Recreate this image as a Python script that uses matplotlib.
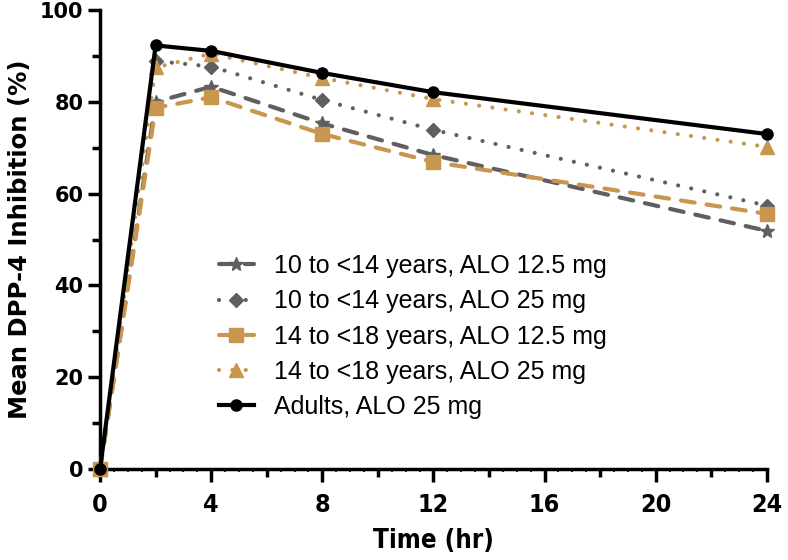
import matplotlib
matplotlib.use("Agg")
import matplotlib.pyplot as plt
from matplotlib.ticker import MultipleLocator, FixedLocator
from matplotlib.font_manager import FontProperties

time = [0, 2, 4, 8, 12, 24]
labels = ["10 to <14 years, ALO 12.5 mg",
          "10 to <14 years, ALO 25 mg",
          "14 to <18 years, ALO 12.5 mg",
          "14 to <18 years, ALO 25 mg",
          "Adults, ALO 25 mg"]
v_10_14_125 = [0, 80.0, 83.3, 75.3, 68.4, 51.9]
v_10_14_25 = [0, 88.9, 87.7, 80.4, 73.9, 57.4]
v_14_18_125 = [0, 78.7, 81.0, 73.0, 66.9, 55.6]
v_14_18_25 = [0, 87.5, 90.5, 85.2, 80.6, 70.2]
v_adult_25 = [0, 92.3, 91.1, 86.3, 82.1, 73.0]

grey = "#5f5f5f"
tan = "#C8964E"

fig = plt.figure(figsize=(7.88, 5.6), dpi=100)
ax = fig.add_axes([0.127, 0.1625, 0.846, 0.8195])

lw = 3.0
dash = (0, (3.3, 2.9))
dot = (0, (0.01, 3.2))

ax.plot(time, v_10_14_125, color=grey, lw=lw, ls=dash, dash_capstyle="round",
        marker="*", ms=10, clip_on=False, zorder=3, label=labels[0])
ax.plot(time, v_10_14_25, color=grey, lw=lw, ls=dot, dash_capstyle="round",
        marker="D", ms=7, clip_on=False, zorder=3, label=labels[1])
ax.plot(time, v_14_18_125, color=tan, lw=lw, ls=dash, dash_capstyle="round",
        marker="s", ms=9.5, clip_on=False, zorder=3, label=labels[2])
ax.plot(time, v_14_18_25, color=tan, lw=lw, ls=dot, dash_capstyle="round",
        marker="^", ms=9.5, clip_on=False, zorder=3, label=labels[3])
ax.plot(time, v_adult_25, color="black", lw=lw, ls="-", marker="o", ms=8,
        clip_on=False, zorder=4, label=labels[4])

ax.set_xlim(0, 24)
ax.set_ylim(0, 100)
for s in ["top", "right"]:
    ax.spines[s].set_visible(False)
for s in ["left", "bottom"]:
    ax.spines[s].set_linewidth(2.5)

ax.xaxis.set_major_locator(MultipleLocator(4))
ax.xaxis.set_minor_locator(MultipleLocator(0.5))
ax.yaxis.set_major_locator(MultipleLocator(20))
ax.yaxis.set_minor_locator(MultipleLocator(10))
ax.tick_params(axis="x", which="major", length=9, width=2.5, pad=8)
ax.tick_params(axis="x", which="minor", length=2.5, width=1.2)
ax.tick_params(axis="y", which="major", length=9, width=2.5, pad=3)
ax.tick_params(axis="y", which="minor", length=6, width=2.5)

sec = ax.secondary_xaxis("bottom")
sec.xaxis.set_major_locator(FixedLocator([2, 6, 10, 14, 18, 22]))
sec.tick_params(axis="x", which="major", length=6, width=2.5, labelbottom=False)
sec.tick_params(axis="x", which="minor", length=0)
sec.spines["bottom"].set_visible(False)

xfp = FontProperties(family="DejaVu Sans", weight="bold", size=18, stretch="condensed")
yfp = FontProperties(family="DejaVu Sans", weight="bold", size=15)
for lab in ax.get_xticklabels():
    lab.set_fontproperties(xfp)
for lab in ax.get_yticklabels():
    lab.set_fontproperties(yfp)

ax.set_xlabel("Time (hr)", fontproperties=FontProperties(family="DejaVu Sans",
              weight="bold", size=18.5, stretch="condensed"), labelpad=8)
ax.set_ylabel("Mean DPP-4 Inhibition (%)",
              fontproperties=FontProperties(family="DejaVu Sans", weight="bold", size=17.5),
              labelpad=6)

leg = ax.legend(loc="upper left", bbox_to_anchor=(0.178, 0.468), frameon=False,
                prop=dict(family="Liberation Sans", size=18),
                handlelength=1.4, handletextpad=0.8, labelspacing=0.45,
                borderaxespad=0, borderpad=0)

fig.savefig("out.png", dpi=100)
